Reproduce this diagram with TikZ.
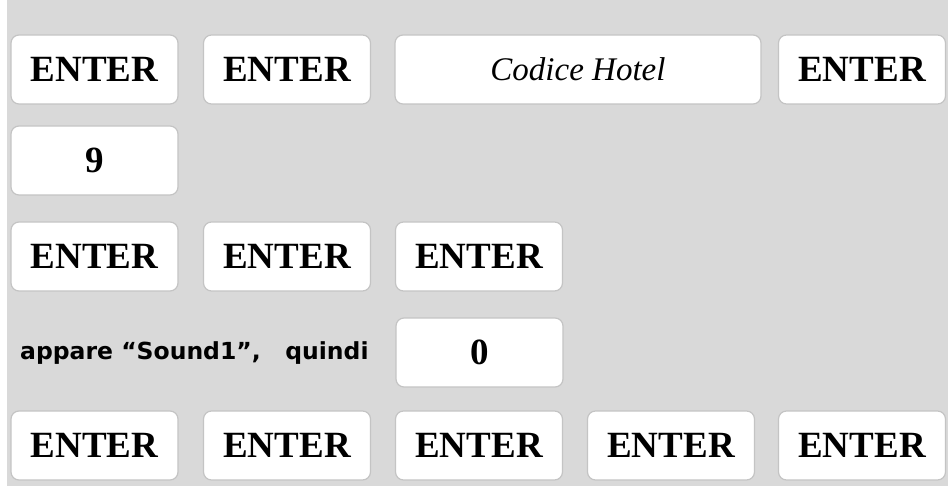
\documentclass[tikz,border=0pt]{standalone}
\usepackage{fontspec}
\setmainfont{Liberation Serif}
\newfontfamily\verdanalike{DejaVu Sans}

\definecolor{sfondo}{HTML}{D9D9D9}
\definecolor{bordo}{HTML}{C4C4C4}

\begin{document}
\begin{tikzpicture}[x=1pt, y=-1pt,
    tasto/.style={draw=bordo, line width=1.2pt, fill=white, rounded corners=8pt,
      minimum width=167pt, minimum height=69pt, inner sep=0pt,
      font=\fontsize{37}{40}\selectfont\bfseries},
    largo/.style={tasto, minimum width=366pt,
      font=\fontsize{33}{38}\selectfont\itshape},
    nota/.style={font=\verdanalike\fontsize{23.5}{28}\selectfont\bfseries, inner sep=0pt}]
  \useasboundingbox (0,0) rectangle (948,489);
  % sfondo grigio
  \fill[sfondo] (7,0) rectangle (948,486);

  % prima riga
  \node[tasto] (e1) at (94.5,69.5) {ENTER};
  \node[tasto] (e2) at (287,69.5) {ENTER};
  \node[largo] (hotel) at (578,69.5) {Codice Hotel};
  \node[tasto] (e3) at (862,69.5) {ENTER};

  % seconda riga
  \node[tasto] (nove) at (94.5,160.5) {9};

  % terza riga
  \node[tasto] (e4) at (94.5,256.5) {ENTER};
  \node[tasto] (e5) at (287,256.5) {ENTER};
  \node[tasto] (e6) at (479,256.5) {ENTER};

  % quarta riga
  \node[nota, anchor=west] (sound) at (20,353) {appare “Sound1”,\ \ \ quindi};
  \node[tasto] (zero) at (479.5,352.5) {0};

  % ultima riga
  \node[tasto] (e7) at (94.5,445.5) {ENTER};
  \node[tasto] (e8) at (287,445.5) {ENTER};
  \node[tasto] (e9) at (479,445.5) {ENTER};
  \node[tasto] (e10) at (671,445.5) {ENTER};
  \node[tasto] (e11) at (862,445.5) {ENTER};
\end{tikzpicture}
\end{document}
